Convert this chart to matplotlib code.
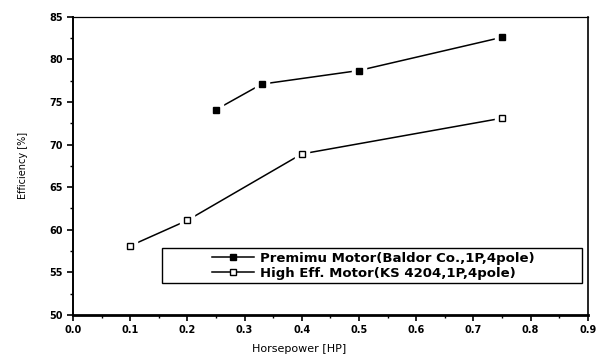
"""Motor efficiency vs horsepower, premium vs high-efficiency motors."""
import matplotlib
matplotlib.use("Agg")
import matplotlib.pyplot as plt
from matplotlib.lines import Line2D
from matplotlib.patches import Rectangle
from matplotlib.ticker import MultipleLocator

# data
premium_hp = [0.25, 0.33, 0.5, 0.75]
premium_eff = [74.1, 77.1, 78.7, 82.6]
high_hp = [0.1, 0.2, 0.4, 0.75]
high_eff = [58.1, 61.1, 68.9, 73.1]

premium_label = "Premimu Motor(Baldor Co.,1P,4pole)"
high_label = "High Eff. Motor(KS 4204,1P,4pole)"

fig = plt.figure(figsize=(5.98, 3.59), dpi=100)
ax = fig.add_axes([0.122, 0.123, 0.861, 0.830])

# line first, then a white halo so the line stops short of each marker
for xs, ys, face in [(premium_hp, premium_eff, "black"),
                     (high_hp, high_eff, "white")]:
    ax.plot(xs, ys, color="black", lw=1.1, zorder=2)
    ax.plot(xs, ys, ls="none", marker="s", ms=10, mfc="white",
            mec="white", zorder=3)
    ax.plot(xs, ys, ls="none", marker="s", ms=5, mfc=face, mec="black",
            mew=1.0, zorder=4)

ax.set_xlim(0.0, 0.9)
ax.set_ylim(50, 85)
ax.xaxis.set_major_locator(MultipleLocator(0.1))
ax.xaxis.set_minor_locator(MultipleLocator(0.05))
ax.yaxis.set_major_locator(MultipleLocator(5))
ax.yaxis.set_minor_locator(MultipleLocator(2.5))
ax.xaxis.set_major_formatter(plt.FuncFormatter(lambda v, p: f"{v:.1f}"))
ax.yaxis.set_major_formatter(plt.FuncFormatter(lambda v, p: f"{v:.0f}"))

ax.tick_params(which="major", direction="out", length=4, width=1.2,
               labelsize=7)
ax.tick_params(which="minor", direction="out", length=2.5, width=1.0)
for lab in ax.get_xticklabels() + ax.get_yticklabels():
    lab.set_fontweight("bold")

ax.spines["bottom"].set_linewidth(2.0)
ax.spines["left"].set_linewidth(1.4)
ax.spines["top"].set_linewidth(0.9)
ax.spines["right"].set_linewidth(1.2)

ax.set_xlabel("Horsepower [HP]", fontsize=8, labelpad=6, x=0.44)
ax.set_ylabel("Efficiency [%]", fontsize=7, labelpad=15)

# legend box is wider than its contents, so draw the frame separately
ax.add_patch(Rectangle((0.173, 0.107), 0.816, 0.117,
                       transform=ax.transAxes, fill=True, fc="white",
                       ec="black", lw=1.0, zorder=5))
handles = [
    Line2D([], [], color="black", lw=1.1, marker="s", ms=5,
           mfc="black", mec="black"),
    Line2D([], [], color="black", lw=1.1, marker="s", ms=5,
           mfc="white", mec="black"),
]
leg = ax.legend(handles, [premium_label, high_label], loc="center",
                bbox_to_anchor=(0.583, 0.165),
                prop={"size": 9.5, "weight": "bold"}, frameon=False,
                handlelength=3.2, labelspacing=0.15, handletextpad=0.4,
                borderpad=0, borderaxespad=0)
leg.set_zorder(6)

fig.savefig("out.png", dpi=100)
